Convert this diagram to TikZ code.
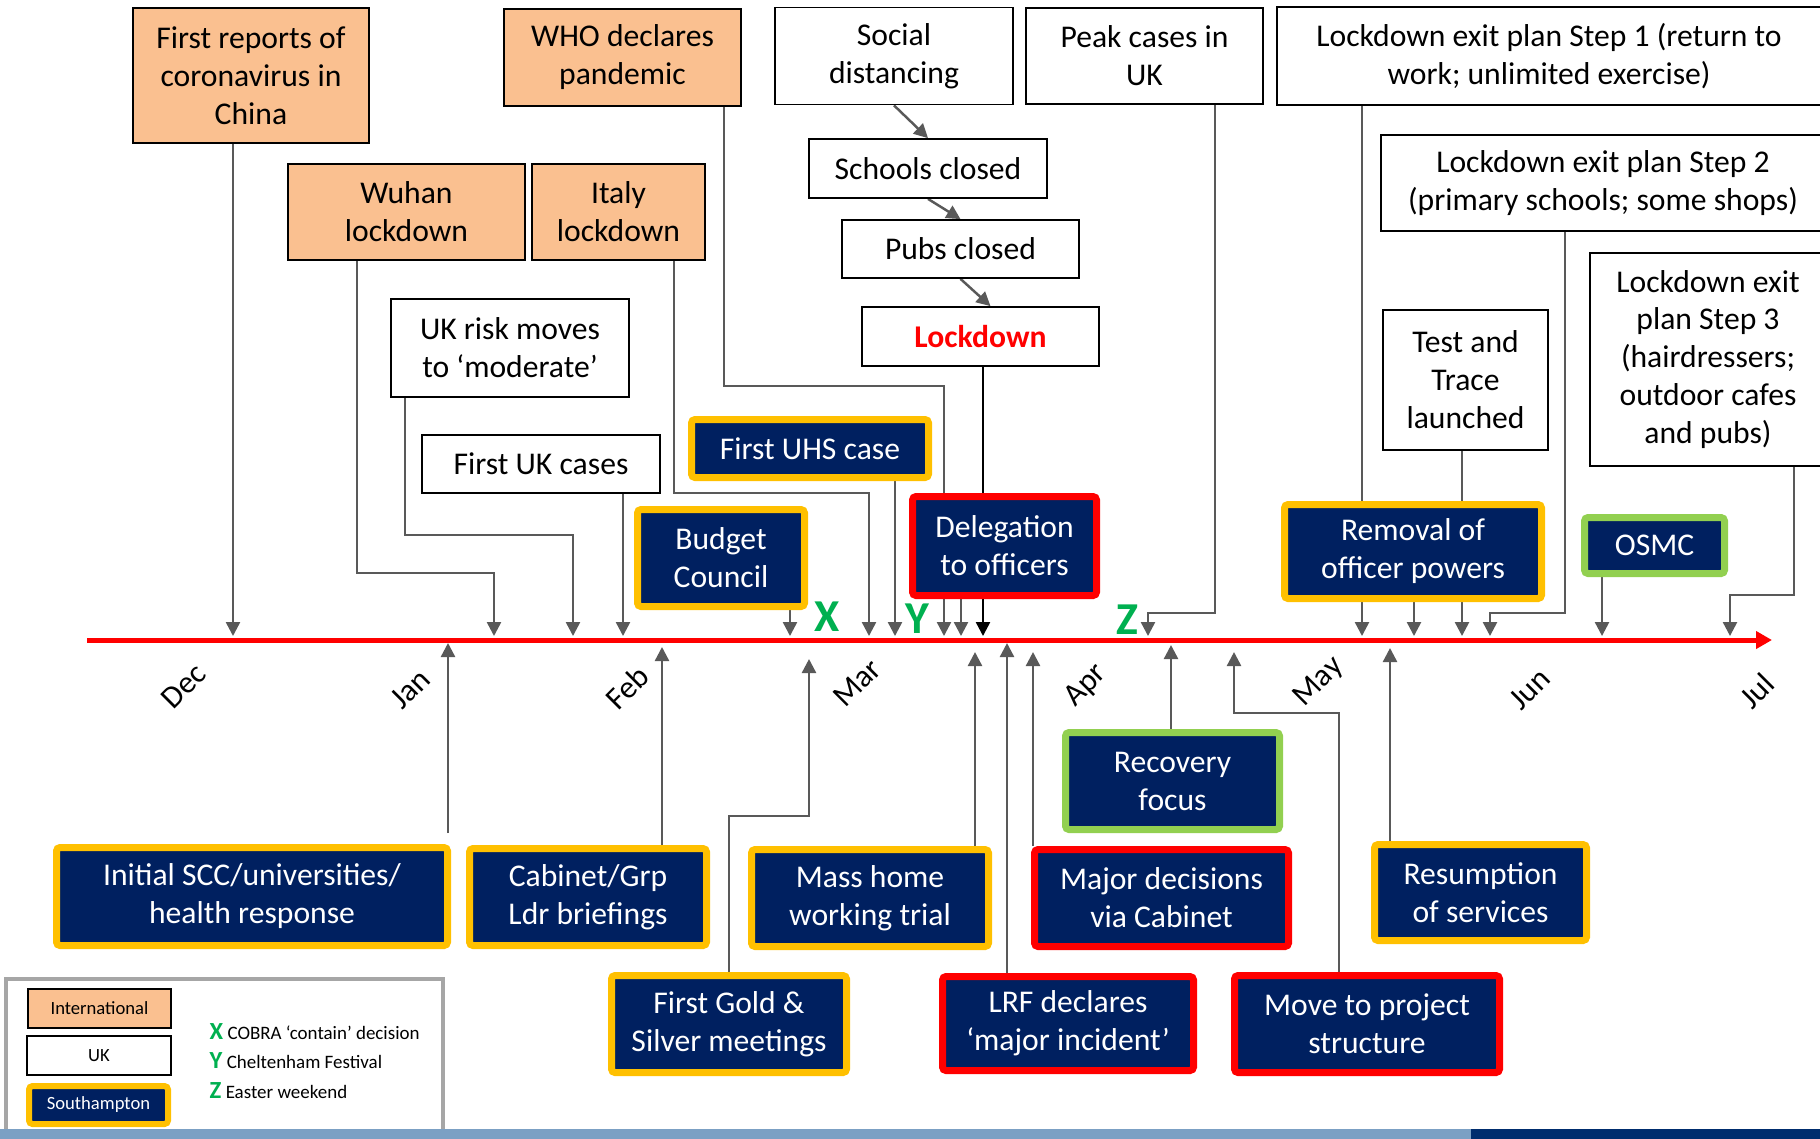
\documentclass[tikz,border=0pt]{standalone}
\usepackage{fontspec}
\setmainfont{Carlito}
\usetikzlibrary{arrows.meta,backgrounds}
\definecolor{intl}{HTML}{FAC090}
\definecolor{navy}{HTML}{002060}
\definecolor{gold}{HTML}{FFC000}
\definecolor{lime}{HTML}{92D050}
\definecolor{xyz}{HTML}{00B050}
\definecolor{conn}{HTML}{595959}
\definecolor{legendgray}{HTML}{A6A6A6}
\definecolor{stripa}{HTML}{7BA0C4}
\definecolor{stripb}{HTML}{002D6E}
\begin{document}
\begin{tikzpicture}[x=0.1mm, y=-0.1mm, font=\fontsize{9}{10.8}\selectfont,
  >={Triangle[width=1.4mm,length=1.4mm]},
  box/.style={draw, line width=0.5pt, inner sep=0pt, align=center},
  intlbox/.style={box, fill=intl},
  ukbox/.style={box, fill=white},
  sotbox/.style={box, fill=navy, text=white, line width=0.7mm, rounded corners=1pt},
  goldbox/.style={sotbox, draw=gold},
  redbox/.style={sotbox, draw=red},
  greenbox/.style={sotbox, draw=lime},
  link/.style={draw=conn, line width=0.7pt, ->},
  month/.style={rotate=45},
  xyzlab/.style={text=xyz, font=\fontsize{13}{13}\selectfont\bfseries},
  keytext/.style={anchor=west, inner sep=0pt, font=\fontsize{5.4}{7}\selectfont}]
\useasboundingbox (0,0) rectangle (1820,1138);
% timeline
\coordinate (tlstart) at (87,640);
\coordinate (tlend) at (1772,640);
\coordinate (tltop) at (0,636);
\coordinate (tlbot) at (0,643);
\draw[red, line width=0.5mm, -{Triangle[width=1.7mm,length=1.6mm]}] (tlstart) -- (tlend);
\foreach \m/\xm/\ym in {Dec/184/686, Jan/410/689, Feb/627/687, Mar/857/683, Apr/1086/686, May/1319/682, Jun/1530/689, Jul/1757/691}
  \node[month] (m-\m) at (\xm,\ym) {\m};
\node[xyzlab] (lx) at (827,617) {X};
\node[xyzlab] (ly) at (917,619) {Y};
\node[xyzlab] (lz) at (1127,620) {Z};
% international
\node[intlbox, minimum width=23.6mm, minimum height=13.5mm] (china) at (251,75.5) {First reports of\\coronavirus in\\China};
\node[intlbox, minimum width=23.7mm, minimum height=9.6mm] (wuhan) at (406.5,212) {Wuhan\\lockdown};
\node[intlbox, minimum width=17.3mm, minimum height=9.6mm] (italy) at (618.5,212) {Italy\\lockdown};
\node[intlbox, minimum width=23.7mm, minimum height=9.7mm] (who) at (622.5,57.5) {WHO declares\\pandemic};
% UK
\node[ukbox, minimum width=23.8mm, minimum height=9.7mm] (social) at (894,56) {Social\\distancing};
\node[ukbox, minimum width=23.8mm, minimum height=5.9mm] (schools) at (928,168.5) {Schools closed};
\node[ukbox, minimum width=23.7mm, minimum height=5.8mm] (pubs) at (960.5,249) {Pubs closed};
\node[ukbox, minimum width=23.7mm, minimum height=5.9mm, text=red, font=\fontsize{9}{10.8}\selectfont\bfseries] (lockdown) at (980.5,336.5) {Lockdown};
\node[ukbox, minimum width=23.7mm, minimum height=9.6mm] (peak) at (1144.5,56) {Peak cases in\\UK};
\node[ukbox, minimum width=54.4mm, minimum height=9.8mm] (step1) at (1549,56) {Lockdown exit plan Step 1 (return to\\work; unlimited exercise)};
\node[ukbox, minimum width=44.4mm, minimum height=9.6mm] (step2) at (1603,183) {Lockdown exit plan Step 2\\(primary schools; some shops)};
\node[ukbox, minimum width=23.6mm, minimum height=21.3mm] (step3) at (1708,359.5) {Lockdown exit\\plan Step 3\\(hairdressers;\\outdoor cafes\\and pubs)};
\node[ukbox, minimum width=16.5mm, minimum height=14mm] (test) at (1465.5,380) {Test and\\Trace\\launched};
\node[ukbox, minimum width=23.8mm, minimum height=9.8mm] (ukrisk) at (510,348) {UK risk moves\\to ‘moderate’};
\node[ukbox, minimum width=23.8mm, minimum height=5.8mm] (firstuk) at (541,464) {First UK cases};
% Southampton
\node[goldbox, minimum width=23.7mm, minimum height=5.8mm] (firstuhs) at (810,448.5) {First UHS case};
\node[goldbox, minimum width=16.7mm, minimum height=9.7mm] (budget) at (721,558) {Budget\\Council};
\node[redbox, minimum width=18.4mm, minimum height=9.9mm] (deleg) at (1004.5,546) {Delegation\\to officers};
\node[goldbox, minimum width=25.7mm, minimum height=9.4mm] (removal) at (1413,551.5) {Removal of\\officer powers};
\node[greenbox, minimum width=14mm, minimum height=5.6mm] (osmc) at (1654.5,545.5) {OSMC};
\node[greenbox, minimum width=21.4mm, minimum height=9.7mm] (recovery) at (1172.5,781) {Recovery\\focus};
\node[goldbox, minimum width=39.1mm, minimum height=9.8mm] (initial) at (252,896.5) {Initial SCC/universities/\\health response};
\node[goldbox, minimum width=23.7mm, minimum height=9.7mm] (cabinet) at (588,897) {Cabinet/Grp\\Ldr briefings};
\node[goldbox, minimum width=23.7mm, minimum height=9.7mm] (mass) at (870,898) {Mass home\\working trial};
\node[redbox, minimum width=25.4mm, minimum height=9.7mm] (major) at (1161.5,898) {Major decisions\\via Cabinet};
\node[goldbox, minimum width=23.5mm, minimum height=9.7mm] (gold) at (729,1024) {First Gold \&\\Silver meetings};
\node[redbox, minimum width=25.1mm, minimum height=9.4mm] (lrf) at (1068,1023.5) {LRF declares\\‘major incident’};
\node[redbox, minimum width=26.5mm, minimum height=9.7mm] (move) at (1367,1024) {Move to project\\structure};
\node[goldbox, minimum width=21.2mm, minimum height=9.6mm] (resume) at (1480.5,892.5) {Resumption\\of services};
% connectors
\begin{scope}[on background layer]
\draw[->, draw=conn, line width=0.7pt] (social.south) -- (schools.north);
\draw[->, draw=conn, line width=0.7pt] (schools.south) -- (pubs.north);
\draw[->, draw=conn, line width=0.7pt] (pubs.south) -- ([xshift=1mm]lockdown.north);
\draw[link] (china.south -| 233,0) -- (233,0 |- tltop);
\draw[link] (wuhan.south -| 357,0) |- (494,573) -- (494,0 |- tltop);
\draw[link] (ukrisk.south -| 405,0) |- (573,535) -- (573,0 |- tltop);
\draw[link] (firstuk.south -| 623,0) -- (623,0 |- tltop);
\draw[link] (italy.south -| 674,0) |- (869,493) -- (869,0 |- tltop);
\draw[link] (budget.south -| 790,0) -- (790,0 |- tltop);
\draw[link] (who.south -| 724,0) |- (944,386) -- (944,0 |- tltop);
\draw[link] (firstuhs.south -| 895,0) -- (895,0 |- tltop);
\draw[link] (deleg.south -| 961,0) -- (961,0 |- tltop);
\draw[link, draw=black] (lockdown.south -| 983,0) -- (983,0 |- tltop);
\draw[link] (peak.south -| 1215,0) |- (1148,613) -- (1148,0 |- tltop);
\draw[link] (step1.south -| 1362,0) -- (1362,0 |- tltop);
\draw[link] (removal.south -| 1414,0) -- (1414,0 |- tltop);
\draw[link] (test.south -| 1462,0) -- (1462,0 |- tltop);
\draw[link] (step2.south -| 1565,0) |- (1490,613) -- (1490,0 |- tltop);
\draw[link] (osmc.south -| 1602,0) -- (1602,0 |- tltop);
\draw[link] (step3.south -| 1794,0) |- (1730,595) -- (1730,0 |- tltop);
\draw[link, shorten <=1.1mm] (initial.north -| 448,0) -- (448,0 |- tlbot);
\draw[link, shorten >=0.4mm] (cabinet.north -| 662,0) -- (662,0 |- tlbot);
\draw[link, shorten >=1.6mm] (gold.north -| 729,0) |- (809,816) -- (809,0 |- tlbot);
\draw[link, shorten >=0.9mm] (mass.north -| 975,0) -- (975,0 |- tlbot);
\draw[link] (lrf.north -| 1007,0) -- (1007,0 |- tlbot);
\draw[link, shorten >=0.9mm] (major.north -| 1033,0) -- (1033,0 |- tlbot);
\draw[link, shorten >=0.2mm] (recovery.north -| 1171,0) -- (1171,0 |- tlbot);
\draw[link, shorten >=0.9mm] (move.north -| 1339,0) |- (1234,713) -- (1234,0 |- tlbot);
\draw[link, shorten >=0.5mm] (resume.north -| 1390,0) -- (1390,0 |- tlbot);
\end{scope}
% legend
\draw[legendgray, line width=0.9pt] (6,979) rectangle (443,1150);
\node[intlbox, line width=0.8pt, minimum width=14.3mm, minimum height=3.9mm, font=\fontsize{5.3}{6}\selectfont] (keyintl) at (99.5,1008.5) {International};
\node[ukbox, line width=0.8pt, minimum width=14.4mm, minimum height=3.9mm, font=\fontsize{5.3}{6}\selectfont] (keyuk) at (99,1055.5) {UK};
\node[goldbox, line width=0.6mm, minimum width=13.9mm, minimum height=3.8mm, font=\fontsize{5.3}{6}\selectfont] (keysot) at (98.5,1105) {Southampton};
\node[keytext] (keyx) at (209,1032) {\textcolor{xyz}{\fontsize{7}{7}\selectfont\bfseries X} COBRA ‘contain’ decision};
\node[keytext] (keyy) at (209,1061) {\textcolor{xyz}{\fontsize{7}{7}\selectfont\bfseries Y} Cheltenham Festival};
\node[keytext] (keyz) at (209,1091) {\textcolor{xyz}{\fontsize{7}{7}\selectfont\bfseries Z} Easter weekend};
% bottom strip
\fill[stripa] (0,1129) rectangle (1471,1140);
\fill[stripb] (1471,1129) rectangle (1822,1140);
\end{tikzpicture}
\end{document}
